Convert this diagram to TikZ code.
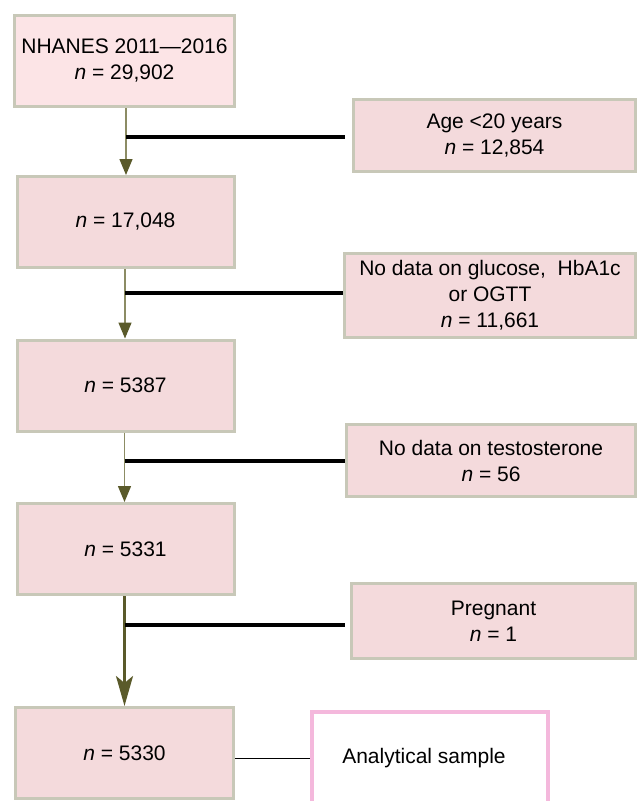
\documentclass[tikz,border=0pt]{standalone}
\usepackage{fontspec}
\setmainfont{Liberation Sans}
\usetikzlibrary{arrows.meta}

\definecolor{boxline}{HTML}{C8C8B8}
\definecolor{topfill}{HTML}{FCE4E6}
\definecolor{boxfill}{HTML}{F4DADC}
\definecolor{samplepink}{HTML}{F4B8DC}
\definecolor{flowgray}{HTML}{8C8C64}
\definecolor{flowolive}{HTML}{5A5A2A}

\tikzset{
  mainbox/.style={draw=boxline,line width=3pt,fill=boxfill,minimum width=217pt,
    minimum height=91pt,inner sep=0pt,align=center},
  exclbox/.style={draw=boxline,line width=3pt,fill=boxfill,inner sep=0pt,align=center},
  flowarrow/.style={draw=flowgray,line width=1.4pt,
    -{Triangle[length=16pt,width=13pt,color=flowolive,fill=flowolive]}},
  exclline/.style={draw=black,line width=3.2pt}
}

\begin{document}
\begin{tikzpicture}[x=1pt,y=-1pt,font=\fontsize{21}{26}\selectfont]
      \useasboundingbox (0,0) rectangle (638,801);
      % main flow
      \node[mainbox,fill=topfill,minimum width=220pt] (total) at (124.5,61)
        {NHANES 2011\textemdash2016\\\textit{n} = 29,902};
      \node[mainbox] (adult) at (125.5,222) {\textit{n} = 17,048};
      \node[mainbox] (glucose) at (125.5,385.5) {\textit{n} = 5387};
      \node[mainbox] (testo) at (125.5,549) {\textit{n} = 5331};
      \node[mainbox,minimum width=218pt] (final) at (124.5,753) {\textit{n} = 5330};
      % exclusions
      \node[exclbox,minimum width=282pt,minimum height=72pt] (age) at (494.5,135.5)
        {Age {<}20 years\\\textit{n} = 12,854};
      \node[exclbox,minimum width=291pt,minimum height=84pt] (nogluc) at (490,295.5)
        {No data on glucose,~ HbA1c\\or OGTT\\\textit{n} = 11,661};
      \node[exclbox,minimum width=289pt,minimum height=72pt] (notesto) at (491,460.5)
        {No data on testosterone\\\textit{n} = 56};
      \node[exclbox,minimum width=284pt,minimum height=75pt] (preg) at (493.5,621)
        {Pregnant\\\textit{n} = 1};
      \node[draw=samplepink,line width=4pt,fill=white,minimum width=236pt,
        minimum height=92pt,inner sep=0pt] (sample) at (430,758) {Analytical sample\hspace*{12pt}};
      % branch points
      \coordinate (j1) at (126,137);
      \coordinate (j2) at (125,293);
      \coordinate (j3) at (124.5,461);
      \coordinate (j4) at (124.5,625);
      % arrows
      \draw[flowarrow] (total.south -| j1) -- (adult.north -| j1);
      \draw[flowarrow] (adult.south -| j2) -- (glucose.north -| j2);
      \draw[flowarrow] (glucose.south -| j3) -- (testo.north -| j3);
      \draw[draw=flowolive,line width=2.6pt,
        -{Stealth[length=30pt,width=17pt,inset=7pt,color=flowolive]}]
        (testo.south -| j4) -- (final.north -| j4);
      \draw[exclline] (j1) -- (345,137);
      \draw[exclline] (j2) -- (nogluc.west |- j2);
      \draw[exclline] (j3) -- (notesto.west |- j3);
      \draw[exclline] (j4) -- (345,625);
      \draw[line width=0.9pt] (final.east |- 0,758) -- (sample.west);
    \end{tikzpicture}
\end{document}
